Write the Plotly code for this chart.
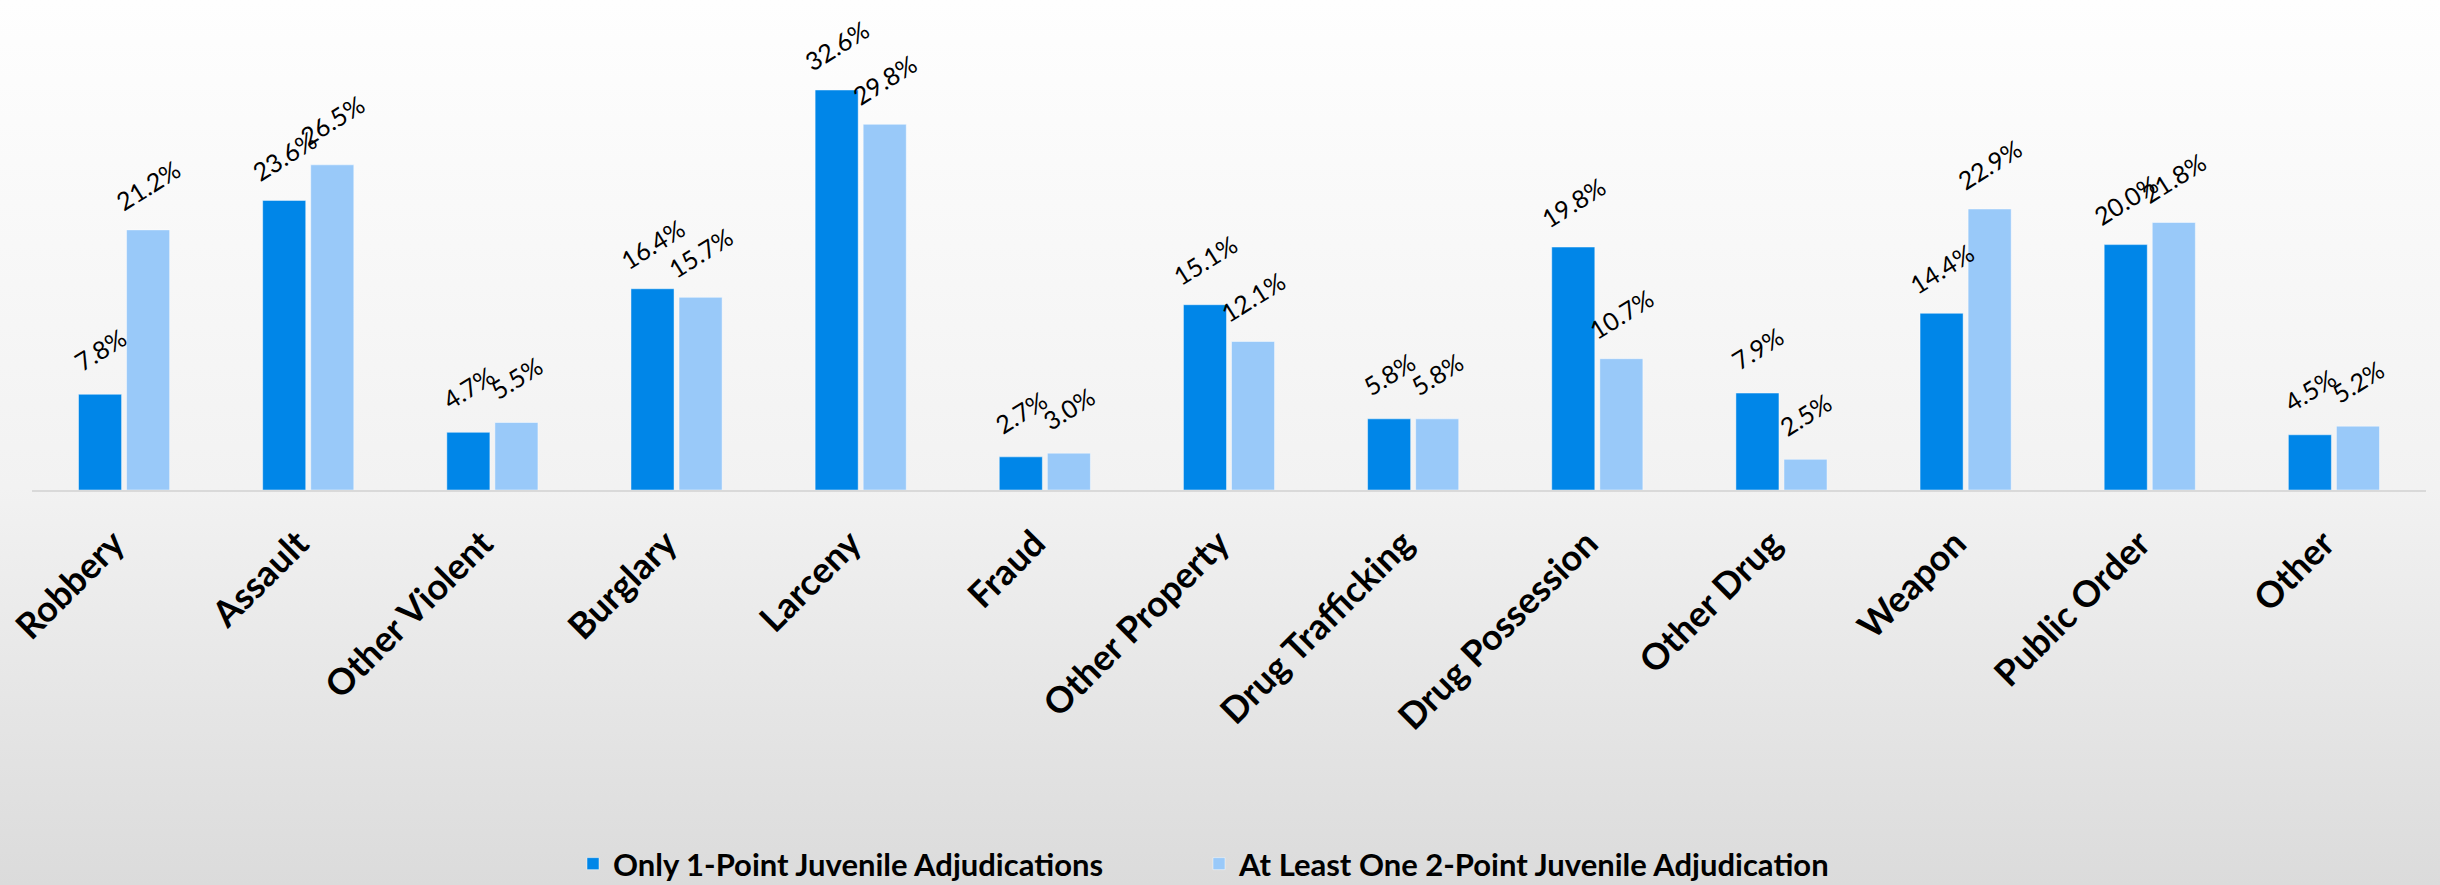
import base64
import plotly.graph_objects as go

categories = ["Robbery", "Assault", "Other Violent", "Burglary", "Larceny", "Fraud",
              "Other Property", "Drug Trafficking", "Drug Possession", "Other Drug",
              "Weapon", "Public Order", "Other"]
only_one_point = [7.8, 23.6, 4.7, 16.4, 32.6, 2.7, 15.1, 5.8, 19.8, 7.9, 14.4, 20.0, 4.5]
at_least_two_point = [21.2, 26.5, 5.5, 15.7, 29.8, 3.0, 12.1, 5.8, 10.7, 2.5, 22.9, 21.8, 5.2]
series_names = ["Only 1-Point Juvenile Adjudications", "At Least One 2-Point Juvenile Adjudication"]

W, H = 2440, 885
ML, MR, MT, MB = 32, 14, 20, 395
PW, PH = W - ML - MR, H - MT - MB
PX_PER_UNIT = 12.27
YMAX = PH / PX_PER_UNIT
LABEL_LIFT = 45 / PX_PER_UNIT  # label centre sits this far above the bar top

svg = ('<svg xmlns="http://www.w3.org/2000/svg" width="100" height="100" preserveAspectRatio="none">'
       '<defs><linearGradient id="g" x1="0" y1="0" x2="0" y2="1">'
       '<stop offset="0" stop-color="#fefefe"/><stop offset="0.55" stop-color="#f2f2f2"/>'
       '<stop offset="1" stop-color="#dbdbdb"/></linearGradient></defs>'
       '<rect width="100" height="100" fill="url(#g)"/></svg>')
bg_src = "data:image/svg+xml;base64," + base64.b64encode(svg.encode()).decode()

fig = go.Figure()
colors = ["#0086e8", "#99c9f9"]
series = [only_one_point, at_least_two_point]
legends = ["legend", "legend2"]
for name, vals, col, lg in zip(series_names, series, colors, legends):
    fig.add_trace(go.Bar(
        name=name, x=categories, y=vals, legend=lg,
        marker=dict(color=col, line=dict(color="rgba(255,255,255,0.45)", width=1)),
        cliponaxis=False, hoverinfo="skip",
    ))

# rotated value labels, carried by invisible zero-length line shapes above each bar
shapes = []
for vals, shift in zip(series, [-0.13, 0.13]):
    for cat, v in zip(categories, vals):
        shapes.append(dict(
            type="line", xref="x", yref="y", x0=cat, x1=cat, x0shift=shift, x1shift=shift,
            y0=v + LABEL_LIFT, y1=v + LABEL_LIFT,
            line=dict(width=1, color="rgba(0,0,0,0)"),
            label=dict(text=f"{v:.1f}%", textangle=-32, textposition="middle",
                       xanchor="center", yanchor="middle", padding=0,
                       font=dict(family="Lato", size=25, color="#000000")),
        ))

legend_common = dict(orientation="h", xref="container", yref="container",
                     xanchor="left", yanchor="middle", y=(H - 864) / H,
                     font=dict(family="Lato", size=31, weight="bold"),
                     itemwidth=30, bgcolor="rgba(0,0,0,0)")

fig.update_layout(
    width=W, height=H,
    margin=dict(l=ML, r=MR, t=MT, b=MB, autoexpand=False),
    paper_bgcolor="rgba(0,0,0,0)", plot_bgcolor="rgba(0,0,0,0)",
    barmode="group", bargap=0.478, bargroupgap=0.104,
    font=dict(family="Lato", color="#000000"),
    xaxis=dict(showgrid=False, showline=True, linecolor="#d9d9d9", linewidth=2,
               tickangle=-45, tickfont=dict(family="Lato", size=36, weight="bold"),
               ticks="", ticklabelstandoff=16, ticklabelshift=-10, automargin=False),
    yaxis=dict(range=[0, YMAX], visible=False, showgrid=False, zeroline=False),
    legend=dict(x=(589 - 16) / W, **legend_common),
    legend2=dict(x=(1215 - 16) / W, **legend_common),
    showlegend=True,
    shapes=shapes,
    images=[dict(source=bg_src, xref="paper", yref="paper",
                 x=-ML / PW, y=1 + MT / PH, sizex=W / PW, sizey=H / PH,
                 xanchor="left", yanchor="top", sizing="stretch", layer="below")],
)

fig.write_html("out.html", config={"displayModeBar": False},
               post_script="document.body.style.margin='0';document.body.style.overflow='hidden';")
